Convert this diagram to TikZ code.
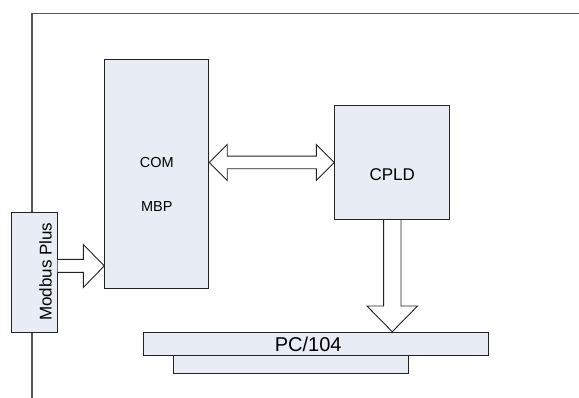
\documentclass[tikz,border=0pt]{standalone}
\usepackage{fontspec}
\setmainfont{Liberation Sans}
\usetikzlibrary{calc}
\definecolor{boxfill}{HTML}{E8EDF5}
\definecolor{framecol}{HTML}{555555}
\definecolor{edgecol}{HTML}{222222}
\begin{document}
\begin{tikzpicture}[x=1pt,y=-1pt,
  blk/.style={draw=edgecol,fill=boxfill,line width=0.9pt,inner sep=0pt,anchor=north west},
  barrow/.style={draw=edgecol,fill=white,line width=0.9pt,line join=miter},
  frame/.style={draw=framecol,line width=1.2pt},
  lbl/.style={inner sep=0pt,text=black}]
\useasboundingbox (0,0) rectangle (579,398);
% outer frame
\draw[frame] (32,398) -- (32,13.3) -- (579,13.3);
% blocks
\node[blk,minimum width=46pt,minimum height=120pt] (mb) at (10.7,212) {};
\node[blk,minimum width=104pt,minimum height=229pt] (com) at (104.3,58.7) {};
\node[blk,minimum width=115pt,minimum height=114.6pt] (cpld) at (334.3,104.7) {};
\node[blk,minimum width=234.4pt,minimum height=18.3pt] (pcl) at (173.3,355) {};
\node[blk,minimum width=345pt,minimum height=23.3pt] (pc) at (143.3,331.7) {};
% texts
\node[lbl,font=\fontsize{17}{17}\selectfont,rotate=90] (mbt) at (45.5,271.7) {Modbus Plus};
\node[lbl,font=\fontsize{14.5}{14.5}\selectfont] (comt) at ($(com.center)+(0,-11)$) {COM};
\node[lbl,font=\fontsize{14.5}{14.5}\selectfont] (mbpt) at ($(com.center)+(0,32.5)$) {MBP};
\node[lbl,font=\fontsize{17}{17}\selectfont] (cpldt) at ($(cpld.center)+(0,12)$) {CPLD};
\node[lbl,font=\fontsize{20}{20}\selectfont] (pct) at ($(pc.center)+(-8,0.5)$) {PC/104};
% Modbus -> COM arrow
\coordinate (s1) at ($(mb.east)+(0,-6.5)$);
\coordinate (e1) at (s1 -| com.west);
\draw[barrow] ($(s1)+(0,-6.5)$) -- ($(e1)+(-21,-6.5)$) -- ($(e1)+(-21,-21.5)$) -- (e1)
  -- ($(e1)+(-21,21.5)$) -- ($(e1)+(-21,6.5)$) -- ($(s1)+(0,6.5)$);
% COM <-> CPLD arrow
\coordinate (l2) at (cpld.west -| com.east);
\coordinate (r2) at (cpld.west);
\draw[barrow] (l2) -- ($(l2)+(18,-18)$) -- ($(l2)+(18,-6.3)$) -- ($(r2)+(-18,-6.3)$)
  -- ($(r2)+(-18,-18)$) -- (r2) -- ($(r2)+(-18,18)$) -- ($(r2)+(-18,6.3)$)
  -- ($(l2)+(18,6.3)$) -- ($(l2)+(18,18)$) -- cycle;
% CPLD -> PC/104 arrow
\coordinate (t3) at (cpld.south |- pc.north);
\draw[barrow] ($(cpld.south)+(-8.7,0)$) -- ($(t3)+(-8.7,-25.7)$) -- ($(t3)+(-25.3,-25.7)$)
  -- (t3) -- ($(t3)+(25.3,-25.7)$) -- ($(t3)+(8.7,-25.7)$) -- ($(cpld.south)+(8.7,0)$);
\end{tikzpicture}
\end{document}
